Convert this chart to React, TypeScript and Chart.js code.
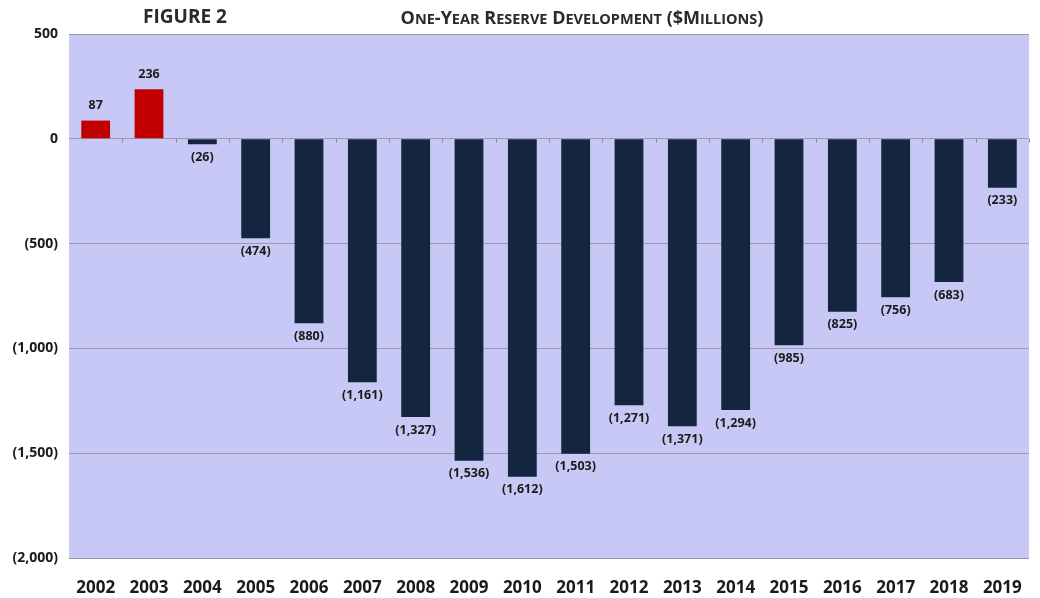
import React, { useEffect, useRef } from "react";
import { Chart, registerables } from "chart.js";

Chart.register(...registerables);

const years = ["2002","2003","2004","2005","2006","2007","2008","2009","2010","2011","2012","2013","2014","2015","2016","2017","2018","2019"];
const development = [87, 236, -26, -474, -880, -1161, -1327, -1536, -1612, -1503, -1271, -1371, -1294, -985, -825, -756, -683, -233];
const figureLabel = "FIGURE 2";
const chartTitle = "One-Year Reserve Development ($Millions)";

const FONT = "'Open Sans', 'DejaVu Sans', sans-serif";
const POS_COLOR = "#C00000";
const NEG_COLOR = "#13253F";
const BG = "#C8C8F6";

const fmt = (v: number) => {
  const s = Math.abs(v).toLocaleString("en-US");
  return v < 0 ? `(${s})` : s;
};

// draw text with manual small caps, centered at cx
function drawSmallCaps(ctx: CanvasRenderingContext2D, text: string, cx: number, cy: number, big: number, small: number) {
  const parts = text.split("").map((ch) => {
    const isLower = ch !== ch.toUpperCase();
    return { ch: ch.toUpperCase(), size: isLower ? small : big };
  });
  let total = 0;
  parts.forEach((p) => {
    ctx.font = `bold ${p.size}px ${FONT}`;
    total += ctx.measureText(p.ch).width;
  });
  let x = cx - total / 2;
  ctx.textAlign = "left";
  ctx.textBaseline = "alphabetic";
  parts.forEach((p) => {
    ctx.font = `bold ${p.size}px ${FONT}`;
    ctx.fillText(p.ch, x, cy);
    x += ctx.measureText(p.ch).width;
  });
}

const plugin = {
  id: "custom",
  beforeDraw(chart: any) {
    const { ctx, chartArea } = chart;
    ctx.save();
    ctx.fillStyle = BG;
    ctx.fillRect(chartArea.left, chartArea.top, chartArea.right - chartArea.left, chartArea.bottom - chartArea.top);
    ctx.restore();
  },
  afterDatasetsDraw(chart: any) {
    const { ctx } = chart;
    const meta = chart.getDatasetMeta(0);
    const x = chart.scales.x;
    const y = chart.scales.y;
    ctx.save();
    const y0 = y.getPixelForValue(0);
    ctx.strokeStyle = "#8a8a9a";
    ctx.lineWidth = 1;
    const step = (x.right - x.left) / years.length;
    for (let i = 1; i <= years.length; i++) {
      const px = Math.round(x.left + step * i) + 0.5;
      ctx.beginPath();
      ctx.moveTo(px, y0);
      ctx.lineTo(px, y0 + 4);
      ctx.stroke();
    }
    ctx.fillStyle = "#1a1a1a";
    ctx.font = `bold 12.5px ${FONT}`;
    ctx.textAlign = "center";
    ctx.textBaseline = "middle";
    meta.data.forEach((bar: any, i: number) => {
      const v = development[i];
      const ly = v >= 0 ? bar.y - 15 : bar.y + 13;
      ctx.fillText(fmt(v), bar.x, ly);
    });
    ctx.fillStyle = "#2a2a2a";
    ctx.font = `bold 19px ${FONT}`;
    ctx.textBaseline = "alphabetic";
    ctx.fillText(figureLabel, 185, 23);
    drawSmallCaps(ctx, chartTitle, 582, 24, 18, 14.5);
    ctx.restore();
  },
};

export default function App() {
  const ref = useRef<HTMLCanvasElement | null>(null);
  useEffect(() => {
    document.body.style.margin = "0";
    const chart = new Chart(ref.current as HTMLCanvasElement, {
      type: "bar",
      data: {
        labels: years,
        datasets: [
          {
            data: development,
            backgroundColor: development.map((v) => (v >= 0 ? POS_COLOR : NEG_COLOR)),
            barPercentage: 0.54,
            categoryPercentage: 1,
          },
        ],
      },
      options: {
        animation: false,
        responsive: false,
        layout: { padding: { top: 34, right: 11, left: 0, bottom: 0 } },
        plugins: { legend: { display: false }, tooltip: { enabled: false }, title: { display: false } },
        scales: {
          x: {
            grid: { display: false },
            border: { display: false },
            ticks: { color: "#1a1a1a", font: { family: FONT, size: 17, weight: "bold" }, padding: 12, maxRotation: 0, autoSkip: false },
            afterFit: (s: any) => { s.height = 40; },
          },
          y: {
            min: -2000,
            max: 500,
            ticks: {
              stepSize: 500,
              color: "#1a1a1a",
              font: { family: FONT, size: 14, weight: "bold" },
              padding: 11,
              callback: (v: any) => fmt(Number(v)),
            },
            grid: { color: "#9a9aa6", lineWidth: 1, drawTicks: false },
            border: { display: false },
            afterFit: (s: any) => { s.width = 69; },
          },
        },
      },
      plugins: [plugin],
    });
    return () => chart.destroy();
  }, []);
  return (
    <div style={{ width: 1040, height: 598 }}>
      <canvas ref={ref} width={1040} height={598} />
    </div>
  );
}
